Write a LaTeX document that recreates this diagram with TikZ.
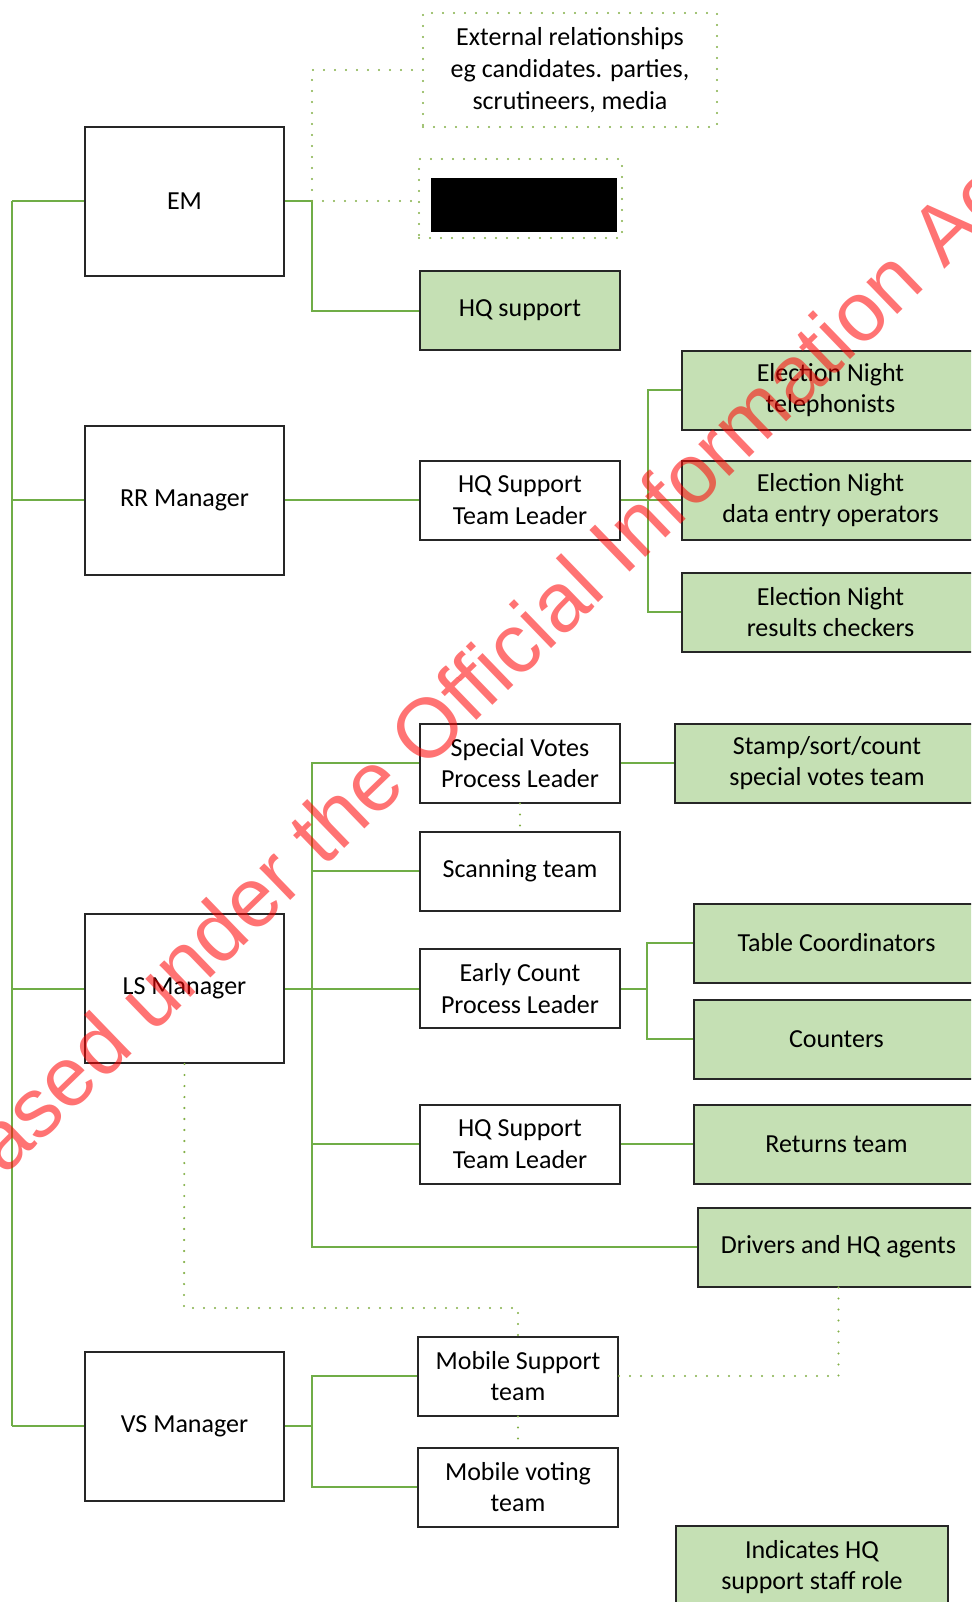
\documentclass[tikz,border=0pt]{standalone}
\usepackage{fontspec}
\setmainfont{Carlito}
\newfontfamily\wmfont{Liberation Sans}
\usepackage{tikz}
\definecolor{hqgreen}{RGB}{112,173,71}
\definecolor{dotgreen}{RGB}{130,175,70}
\definecolor{hqfill}{RGB}{197,224,180}
\definecolor{boxline}{RGB}{38,38,38}
\tikzset{
    mgrbox/.style={rectangle, minimum width=99.5pt, minimum height=74.5pt, align=center, draw=boxline, line width=1pt, fill=white, font=\fontsize{13}{15.85}\selectfont},
    rolebox/.style={rectangle, minimum width=100pt, minimum height=39.5pt, align=center, draw=boxline, line width=1pt, fill=white, font=\fontsize{13}{15.85}\selectfont},
    hqbox/.style={rolebox, fill=hqfill},
    dotbox/.style={rectangle, align=center, draw=dotgreen, line width=1.2pt, dash pattern=on 0pt off 5.5pt, line cap=round, font=\fontsize{13}{15.85}\selectfont},
    link/.style={draw=hqgreen, line width=1pt},
    dotlink/.style={draw=dotgreen, line width=1.2pt, dash pattern=on 0pt off 5.5pt, line cap=round},
    wmark/.style={anchor=base, rotate=44, text=red, text opacity=0.55, font=\wmfont\fontsize{42}{42}\selectfont}
}

\begin{document}
\begin{tikzpicture}[x=0.5pt, y=-0.5pt]
    % Page frame (pixel units, y pointing down)
    \useasboundingbox (0,0) rectangle (971,1602);
    \clip (0,0) rectangle (971,1602);

    % Managers column
    \node[mgrbox] (em) at (184.5,201) {EM};
    \node[mgrbox] (rrmgr) at (184.5,500) {RR Manager};
    \node[mgrbox] (lsmgr) at (184.5,988.5) {LS Manager};
    \node[mgrbox] (vsmgr) at (184.5,1426) {VS Manager};

    % EM branch
    \node[dotbox, minimum width=147pt, minimum height=57pt] (extrel) at (570,70) {External relationships\\eg candidates. parties,\\scrutineers, media};
    \node[dotbox, minimum width=101.5pt, minimum height=39.5pt] (redact) at (520.5,198.5) {};
    \node[fill=black, minimum width=93pt, minimum height=27pt, inner sep=0pt] (blackbar) at (524,205) {};
    \node[hqbox] (hqsup) at (520,310.5) {HQ support};

    % RR branch
    \node[rolebox] (hqtl) at (520,500) {HQ Support\\Team Leader};
    \node[hqbox, minimum width=148.5pt] (entel) at (830.5,390) {Election Night\\telephonists};
    \node[hqbox, minimum width=148.5pt] (endata) at (830.5,500) {Election Night\\data entry operators};
    \node[hqbox, minimum width=148.5pt] (enchk) at (830.5,612) {Election Night\\results checkers};

    % LS branch
    \node[rolebox] (svpl) at (520,763) {Special Votes\\Process Leader};
    \node[hqbox, minimum width=152pt] (svteam) at (827,763) {Stamp/sort/count\\special votes team};
    \node[rolebox] (scan) at (520,871) {Scanning team};
    \node[rolebox] (ecpl) at (520,988.5) {Early Count\\Process Leader};
    \node[hqbox, minimum width=142.5pt] (tablec) at (836.5,943) {Table Coordinators};
    \node[hqbox, minimum width=142.5pt] (counters) at (836.5,1039) {Counters};
    \node[rolebox] (hqtlb) at (520,1144) {HQ Support\\Team Leader};
    \node[hqbox, minimum width=142.5pt] (returns) at (836.5,1144) {Returns team};
    \node[hqbox, minimum width=140.5pt] (drivers) at (838.5,1247) {Drivers and HQ agents};

    % VS branch
    \node[rolebox] (mobsup) at (518,1376) {Mobile Support\\team};
    \node[rolebox] (mobvote) at (518,1487) {Mobile voting\\team};

    % Legend
    \node[hqbox, minimum width=136pt, minimum height=41pt] (legend) at (812,1567) {Indicates HQ\\support staff role};

    % Bus lines
    \coordinate (trunk) at (12,0);
    \coordinate (embus) at (312,0);
    \coordinate (enbus) at (648,0);
    \coordinate (lsbus) at (312,0);
    \coordinate (ecbus) at (647,0);
    \coordinate (vsbus) at (312,0);
    \coordinate (lsdrop) at (184,1308);

    % Solid links
    \draw[link] (trunk |- em.west) -- (trunk |- vsmgr.west);
    \foreach \m in {em, rrmgr, lsmgr, vsmgr} {
        \draw[link] (trunk |- \m.west) -- (\m.west);
    }
    \draw[link] (em.east) -- (embus |- em.east) -- (embus |- hqsup.west) -- (hqsup.west);
    \draw[link] (rrmgr.east) -- (hqtl.west);
    \draw[link] (hqtl.east) -- (endata.west);
    \draw[link] (entel.west) -- (enbus |- entel.west) -- (enbus |- enchk.west) -- (enchk.west);
    \draw[link] (lsmgr.east) -- (ecpl.west);
    \draw[link] (svpl.west) -- (lsbus |- svpl.west) -- (lsbus |- drivers.west) -- (drivers.west);
    \draw[link] (lsbus |- scan.west) -- (scan.west);
    \draw[link] (lsbus |- hqtlb.west) -- (hqtlb.west);
    \draw[link] (svpl.east) -- (svteam.west);
    \draw[link] (ecpl.east) -- (ecbus |- ecpl.east);
    \draw[link] (tablec.west) -- (ecbus |- tablec.west) -- (ecbus |- counters.west) -- (counters.west);
    \draw[link] (hqtlb.east) -- (returns.west);
    \draw[link] (vsmgr.east) -- (vsbus |- vsmgr.east);
    \draw[link] (mobsup.west) -- (vsbus |- mobsup.west) -- (vsbus |- mobvote.west) -- (mobvote.west);

    % Dotted links
    \draw[dotlink] (embus |- em.east) -- (em.east -| redact.west);
    \draw[dotlink] (embus |- em.east) |- (extrel.west);
    \draw[dotlink] (svpl.south) -- (scan.north);
    \draw[dotlink] (lsmgr.south) -- (lsdrop) -| (mobsup.north);
    \draw[dotlink] (mobsup.south) -- (mobvote.north);
    \draw[dotlink] (mobsup.east) -| (drivers.south);

    % Watermark
    \node[wmark] (oiamark) at (456,741) {Released under the Official Information Act};
\end{tikzpicture}
\end{document}
